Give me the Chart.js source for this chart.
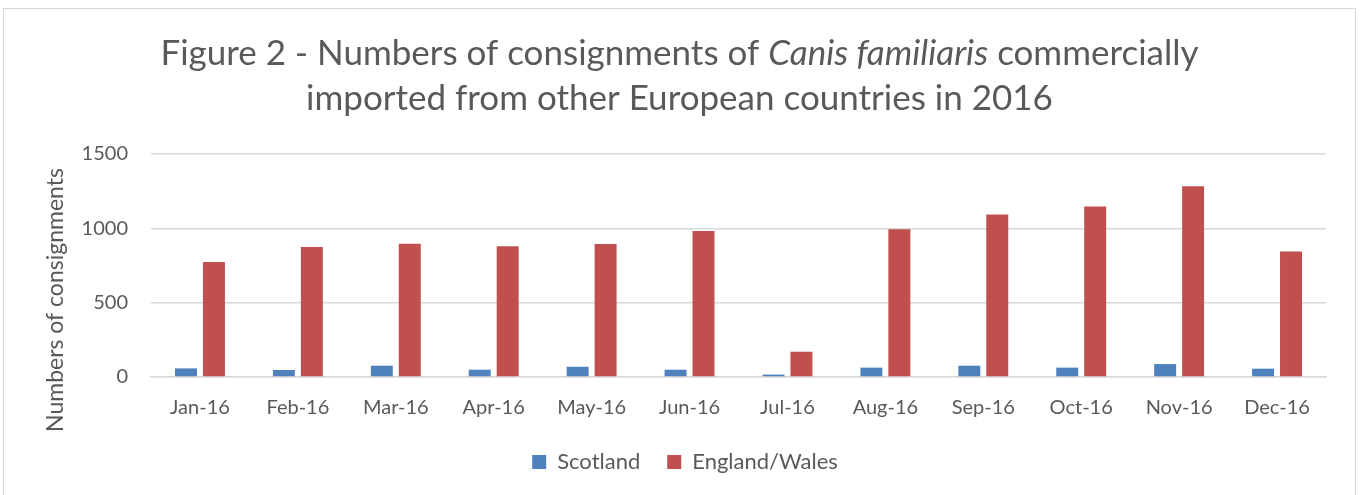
<!DOCTYPE html>
<html lang="en">
<head>
    <meta charset="utf-8" />
    <title>Figure 2 - Canis familiaris consignments 2016</title>
    <script src="https://cdnjs.cloudflare.com/ajax/libs/Chart.js/4.4.0/chart.umd.js"></script>
    <style>
        body { margin: 0; background: #fff; }
        #wrap {
            position: absolute; left: 3px; top: 8px;
            width: 1351px; height: 486px;
            border: 1px solid #d9d9d9; border-bottom: none;
        }
    </style>
</head>
<body>
<div id="wrap"><canvas id="chart"></canvas></div>
<script>
    const months = ['Jan-16', 'Feb-16', 'Mar-16', 'Apr-16', 'May-16', 'Jun-16',
                    'Jul-16', 'Aug-16', 'Sep-16', 'Oct-16', 'Nov-16', 'Dec-16'];
    const scotland = [58, 47, 76, 49, 69, 49, 16, 63, 76, 63, 87, 56];
    const englandWales = [774, 874, 897, 879, 894, 982, 170, 993, 1093, 1147, 1283, 845];

    // title lines, each split in plain / italic pieces
    const titleLines = [
        [['Figure 2 - Numbers of consignments of ', false], ['Canis familiaris', true], [' commercially', false]],
        [['imported from other European countries in 2016', false]]
    ];
    const yTitle = 'Numbers of consignments';

    const grey = '#595959';
    const fontFam = 'Lato, sans-serif';

    // draws the title (with the italic species name) and the y axis title
    const titlePlugin = {
        id: 'mixedTitle',
        afterDraw(chart) {
            const ctx = chart.ctx;
            const size = 35;
            const baselines = [56, 101];
            ctx.save();
            ctx.fillStyle = grey;
            ctx.textBaseline = 'alphabetic';
            titleLines.forEach((line, i) => {
                let total = 0;
                line.forEach(([txt, it]) => {
                    ctx.font = (it ? 'italic ' : '') + size + 'px ' + fontFam;
                    total += ctx.measureText(txt).width;
                });
                let x = chart.width / 2 - total / 2;
                line.forEach(([txt, it]) => {
                    ctx.font = (it ? 'italic ' : '') + size + 'px ' + fontFam;
                    ctx.fillText(txt, x, baselines[i]);
                    x += ctx.measureText(txt).width;
                });
            });

            ctx.translate(52, 291);
            ctx.rotate(-Math.PI / 2);
            ctx.font = '23px ' + fontFam;
            ctx.textAlign = 'center';
            ctx.textBaseline = 'middle';
            ctx.fillText(yTitle, 0, 0);
            ctx.restore();
        }
    };

    const ctx = document.getElementById('chart').getContext('2d');
    new Chart(ctx, {
        type: 'bar',
        data: {
            labels: months,
            datasets: [
                {
                    label: 'Scotland',
                    data: scotland,
                    backgroundColor: '#4f81bd',
                    categoryPercentage: 0.571,
                    barPercentage: 0.786,
                },
                {
                    label: 'England/Wales',
                    data: englandWales,
                    backgroundColor: '#c0504d',
                    categoryPercentage: 0.571,
                    barPercentage: 0.786,
                }
            ]
        },
        options: {
            responsive: true,
            maintainAspectRatio: false,
            animation: false,
            layout: { padding: { top: 145, right: 29, bottom: 12, left: 40 } },
            plugins: {
                legend: {
                    position: 'bottom',
                    labels: {
                        color: grey,
                        font: { family: fontFam, size: 22 },
                        boxWidth: 14,
                        boxHeight: 14,
                        padding: 27,
                    }
                },
                tooltip: { enabled: false }
            },
            scales: {
                x: {
                    afterFit(scale) { scale.height = 47; },
                    grid: { display: false, drawTicks: false },
                    border: { color: '#d9d9d9', width: 1.5 },
                    ticks: {
                        color: grey,
                        font: { family: fontFam, size: 20 },
                        padding: 19,
                        maxRotation: 0,
                    }
                },
                y: {
                    min: 0,
                    max: 1500,
                    afterFit(scale) { scale.width = 107; },
                    grid: { color: '#d9d9d9', drawTicks: false, lineWidth: 1.5 },
                    border: { display: false },
                    ticks: {
                        stepSize: 500,
                        color: grey,
                        font: { family: fontFam, size: 20 },
                        padding: 23,
                        callback: v => String(v),
                    }
                }
            }
        },
        plugins: [titlePlugin]
    });
</script>
</body>
</html>
